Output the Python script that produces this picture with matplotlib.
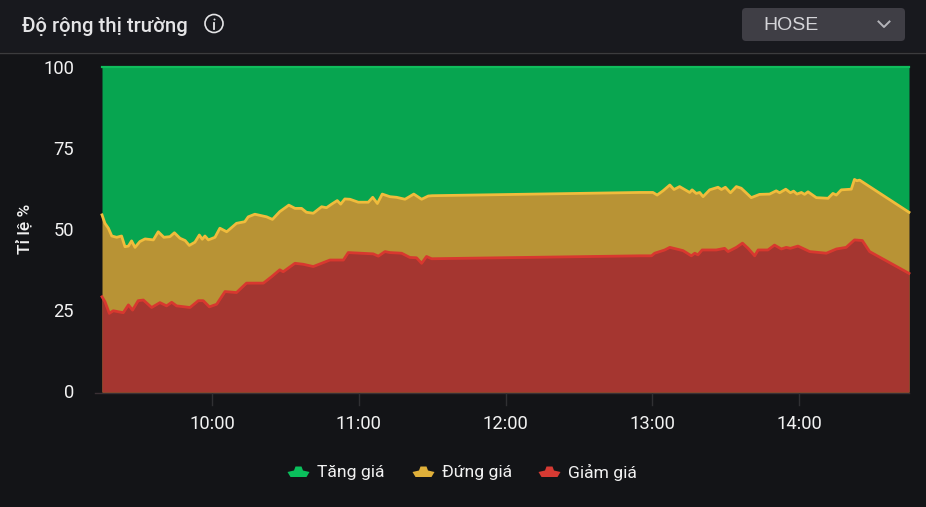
#!/usr/bin/env python
# coding=utf-8
'''Market breadth chart: share of rising, flat and falling stocks during the session'''
import matplotlib
matplotlib.use('Agg')
import matplotlib.pyplot as plt
from matplotlib.patches import Circle, FancyBboxPatch, Polygon, Rectangle

plt.rcParams['font.family'] = ['Roboto', 'DejaVu Sans']

# minutes since midnight, cumulative percent
t_flat = [555, 556.2, 557.6, 559, 561, 563, 564.4, 565.8, 567.1, 568.5, 570.5, 572.6, 576, 578, 580.3,
          582.8, 584.6, 586.9, 589, 590.7, 593, 594.8, 596, 597.1, 598.5, 601.2, 603.2, 606, 610, 613.4,
          614.8, 617.5, 622.3, 624.7, 627.7, 631.4, 633.9, 636.6, 638.6, 641.4, 644.8, 646.8, 648.9,
          651.2, 652.6, 654.3, 656.4, 659.8, 663.9, 665.7, 667.6, 669.6, 672.7, 675.5, 678.9, 682.5,
          685.7, 688.4, 690, 774.9, 780.3, 782, 784.4, 787.2, 788.9, 791.2, 795.3, 796.3, 798, 799.4,
          800.8, 803.5, 806.9, 808.3, 809.9, 812, 814.4, 816.4, 820.5, 823.9, 828, 830.7, 832.1, 834.6,
          836.5, 837.8, 839.2, 841, 842.3, 843.7, 847.1, 851.9, 853.9, 855.3, 857.3, 861.4, 862.7, 863.7,
          864.8, 885]
top_flat = [54.5, 51.9, 50.4, 48.0, 47.6, 48.0, 44.7, 44.9, 46.5, 44.5, 46.3, 47.1, 46.8, 49.3, 47.6,
            47.8, 49.0, 47.3, 46.6, 45.1, 46.1, 48.3, 47.0, 48.0, 46.8, 47.6, 50.4, 49.3, 51.9, 52.4,
            53.9, 54.7, 53.9, 53.1, 55.5, 57.5, 56.5, 56.5, 55.3, 55.0, 57.0, 56.7, 57.8,
            58.9, 57.8, 59.4, 59.3, 58.4, 58.4, 59.9, 58.0, 60.9, 60.1, 59.9, 59.3, 60.9,
            59.3, 60.3, 60.4, 61.4, 61.4, 60.6, 61.9, 63.7, 62.3, 63.2, 61.4, 62.2, 61.1, 61.4,
            60.1, 62.2, 63.0, 62.3, 63.0, 61.3, 63.2, 62.7, 59.8, 60.8, 60.9, 61.9, 61.3, 62.4,
            61.3, 61.8, 60.9, 61.4, 60.8, 61.6, 59.8, 59.6, 61.1, 60.6, 62.2, 62.4, 65.4, 65.0,
            65.2, 55.3]
t_down = [555, 556.2, 558, 559.6, 563.7, 565.8, 567.5, 569.8, 571.9, 575.3, 578.7, 581.4, 583.5, 585.5,
          591, 594.4, 596.4, 598.9, 601.9, 605.3, 610, 614.1, 621, 624.4, 627.7, 629.1, 633.9, 637.3,
          641.4, 648.2, 653.7, 655.7, 665.9, 668, 670.7, 672.8, 677.5, 680.9, 683.6, 685.7, 687.7, 689.8,
          774.9, 779.7, 781, 785.1, 787.2, 789.9, 792.6, 796, 797.4, 798.7, 800.4, 806.2, 809.6, 811,
          814.4, 816.9, 819.2, 821.9, 823.3, 827.3, 830, 832.8, 834.8, 836.5, 839.6, 844.4, 851.2, 855.3,
          859.3, 862.7, 865.9, 868.9, 885]
top_down = [29.3, 27.8, 24.2, 25.0, 24.4, 26.8, 25.2, 28.1, 28.3, 26.0, 27.5, 26.5, 27.6, 26.5,
            26.0, 28.1, 28.1, 26.2, 27.0, 30.9, 30.6, 33.5, 33.5, 35.5, 37.6, 37.0, 39.6, 39.3,
            38.6, 40.6, 40.6, 42.9, 42.5, 41.8, 43.2, 42.9, 42.7, 41.4, 41.3, 39.6, 41.7, 41.0,
            41.9, 41.9, 42.7, 43.7, 44.5, 44.0, 43.5, 41.9, 42.7, 42.2, 43.7, 43.7, 44.2, 43.2,
            44.5, 45.8, 44.2, 41.9, 43.7, 43.7, 45.2, 44.0, 44.5, 44.2, 44.9, 43.2, 42.7, 44.0,
            44.5, 46.8, 46.6, 43.2, 36.5]
t_start, t_end = 555, 885
y_ticks = [0, 25, 50, 75, 100]
x_ticks = [600, 660, 720, 780, 840]
x_labels = ['10:00', '11:00', '12:00', '13:00', '14:00']
legend_names = ['Tăng giá', 'Đứng giá', 'Giảm giá']

BG = '#131417'
W, H = 926, 507
TEXT = '#f2f2f2'

fig = plt.figure(figsize=(W/100, H/100), dpi=100, facecolor=BG)

# pixel-space layer for the header, axis line and legend
ov = fig.add_axes([0, 0, 1, 1], zorder=0)
ov.set_xlim(0, W)
ov.set_ylim(H, 0)
ov.axis('off')
ov.add_patch(Rectangle((0, 0), W, 52, fc='#18191e', ec='none'))
ov.plot([0, W], [52.5, 52.5], color='#3c3c3e', lw=1)
ov.text(22, 26, 'Độ rộng thị trường', color='#e4e4e6', fontsize=14.6, fontweight='medium', va='center')
ov.add_patch(Circle((214, 23.5), 9, fc='none', ec='#e4e4e6', lw=1.2))
ov.plot([214, 214], [22.5, 29], color='#e4e4e6', lw=1.3)
ov.plot([214], [18.7], 'o', color='#e4e4e6', ms=1.4, mew=0)
ov.add_patch(FancyBboxPatch((742, 8), 163, 33, boxstyle='round,pad=0,rounding_size=4',
                            fc='#3f3e45', ec='none'))
ov.text(763.5, 25, 'HOSE', color='#d4d4d8', fontsize=14, family=['Liberation Sans'], va='center')
ov.plot([878.5, 884, 889.5], [21.5, 27, 21.5], color='#b5b5ba', lw=1.4)

ov.plot([95, 909], [392.8, 392.8], color='#3a3035', lw=1)
for t in x_ticks:
    px = 102 + (t - t_start)*(909 - 102)/(t_end - t_start)
    ov.plot([px, px], [393, 405], color='#303033', lw=1)
    ov.text(px, 424, x_labels[x_ticks.index(t)], color=TEXT, fontsize=13.2, ha='center', va='center')
for v in y_ticks:
    py = 393.5 - v*3.25
    ov.text(74, py, str(v), color=TEXT, fontsize=13.2, ha='right', va='center')
ov.text(24, 229, 'Tỉ lệ %', color=TEXT, fontsize=12.5, fontweight='medium', rotation=90, ha='center', va='center')

# legend icons are little hat shapes
icons = [(298.5, '#0ac05c'), (423.5, '#e0b03a'), (549.5, '#d63a33')]
hat = [(-11, 0.5), (-4.5, -1), (-3, -5), (3, -5), (4.5, -1), (11, 0.5), (8, 5.5), (-8, 5.5)]
for (cx, c1), name in zip(icons, legend_names):
    ov.add_patch(Polygon([(cx + a, 471.5 + b) for a, b in hat], fc=c1, ec='none'))
    ov.text(cx + 18.5, 472, name, color=TEXT, fontsize=12.6, va='center')

# the plot itself, each band filled only up to its own ceiling
ax = fig.add_axes([102/W, 1 - 392/H, (909 - 102)/W, (392 - 67)/H], zorder=1)
ax.set_xlim(t_start, t_end)
ax.set_ylim(0, 100)
ax.axis('off')
ax.fill_between(t_flat, top_flat, 100, color='#07a550', lw=0)
ax.plot([t_start, t_end], [100, 100], color='#10bd5c', lw=1.6, clip_on=False)
ax.fill_between(t_flat, 0, top_flat, color='#b89335', lw=0)
ax.plot(t_flat, top_flat, color='#f0bc3c', lw=2, solid_joinstyle='round', clip_on=False)
ax.fill_between(t_down, 0, top_down, color='#a53630', lw=0)
ax.plot(t_down, top_down, color='#d8382f', lw=2, solid_joinstyle='round', clip_on=False)

fig.savefig('out.png', dpi=100, facecolor=BG)
